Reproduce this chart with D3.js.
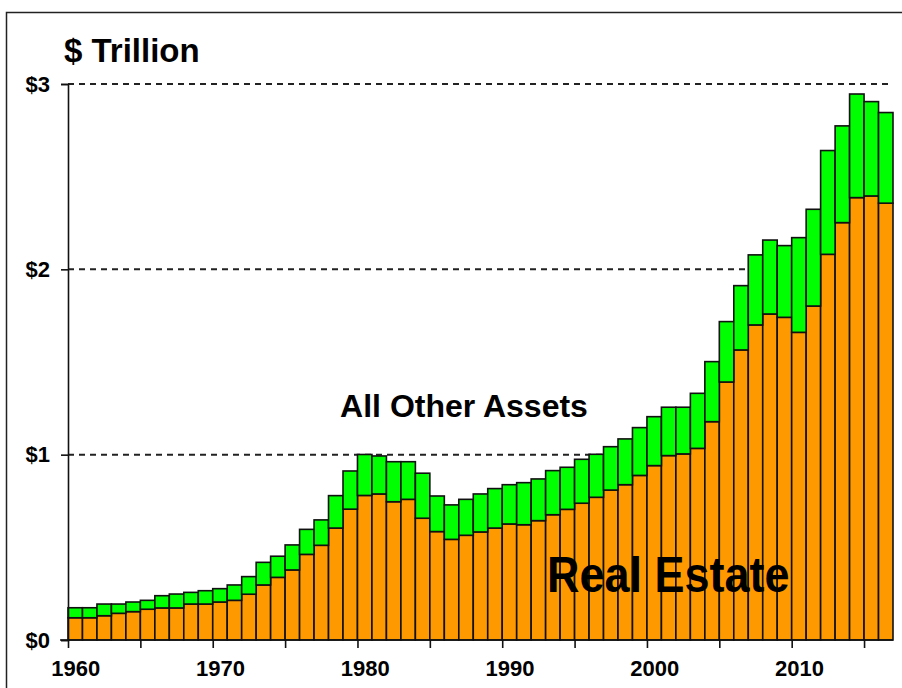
<!DOCTYPE html>
<html>
<head>
<meta charset="utf-8">
<script src="https://cdn.jsdelivr.net/npm/d3@7/dist/d3.min.js"></script>
<style>
    html, body {
        margin: 0;
        padding: 0;
        background: #fff;
    }
    #chart text {
        font-family: "Liberation Sans", Arial, sans-serif;
        font-weight: bold;
        fill: #000;
    }
</style>
</head>
<body>
<div id="chart"></div>
<script>
// Data ($ trillion)
const years = d3.range(1960, 2017);

const realEstate = [
    0.120, 0.120, 0.131, 0.144, 0.153, 0.166, 0.173, 0.173, 0.194, 0.194,
    0.205, 0.214, 0.247, 0.297, 0.338, 0.378, 0.462, 0.511, 0.604, 0.706,
    0.780, 0.788, 0.746, 0.759, 0.657, 0.585, 0.543, 0.565, 0.583, 0.604,
    0.626, 0.622, 0.644, 0.676, 0.705, 0.738, 0.770, 0.809, 0.838, 0.888,
    0.941, 0.995, 1.004, 1.034, 1.178, 1.392, 1.565, 1.700, 1.759, 1.741,
    1.660, 1.802, 2.081, 2.252, 2.387, 2.396, 2.357
];

const otherAssets = [
    0.054, 0.054, 0.063, 0.050, 0.052, 0.048, 0.066, 0.075, 0.063, 0.072,
    0.072, 0.083, 0.095, 0.122, 0.114, 0.135, 0.135, 0.137, 0.175, 0.206,
    0.221, 0.205, 0.216, 0.203, 0.243, 0.192, 0.186, 0.194, 0.205, 0.213,
    0.212, 0.227, 0.225, 0.238, 0.227, 0.237, 0.232, 0.234, 0.247, 0.258,
    0.264, 0.261, 0.252, 0.297, 0.324, 0.326, 0.347, 0.378, 0.399, 0.387,
    0.511, 0.522, 0.560, 0.522, 0.559, 0.509, 0.489
];

const yTicks = [0, 1, 2, 3];
const gridTicks = [1, 2, 3];
const xTicks = d3.range(1960, 2020, 5);
const xLabels = [1960, 1970, 1980, 1990, 2000, 2010];

const width = 902;
const height = 688;

const rows = years.map((y, i) => ({ year: y, real: realEstate[i], other: otherAssets[i] }));
const series = d3.stack().keys(['real', 'other'])(rows);
const colors = { real: '#ff9900', other: '#00ff00' };

const svg = d3.select('#chart')
    .append('svg')
    .attr('width', width)
    .attr('height', height);

// frame
svg.append('rect')
    .attr('x', 6.5)
    .attr('y', 12.5)
    .attr('width', 1000)
    .attr('height', 1000)
    .attr('fill', 'none')
    .attr('stroke', '#222')
    .attr('stroke-width', 1.5);

const xScale = d3.scaleLinear()
    .domain([1960, 2017])
    .range([68, 893]);

const yScale = d3.scaleLinear()
    .domain([0, 3])
    .range([640, 84]);

// dashed grid
svg.append('g')
    .selectAll('line')
    .data(gridTicks)
    .join('line')
    .attr('x1', xScale(1960))
    .attr('x2', xScale(2017))
    .attr('y1', d => yScale(d))
    .attr('y2', d => yScale(d))
    .attr('stroke', '#222')
    .attr('stroke-width', 2)
    .attr('stroke-dasharray', '6,5');

// stacked bars
svg.append('g')
    .selectAll('g')
    .data(series)
    .join('g')
    .attr('fill', d => colors[d.key])
    .selectAll('rect')
    .data(d => d)
    .join('rect')
    .attr('x', d => xScale(d.data.year))
    .attr('width', d => xScale(d.data.year + 1) - xScale(d.data.year))
    .attr('y', d => yScale(d[1]))
    .attr('height', d => yScale(d[0]) - yScale(d[1]))
    .attr('stroke', '#111')
    .attr('stroke-width', 1.6);

// y axis
const yAxis = svg.append('g')
    .attr('transform', 'translate(' + xScale(1960) + ',0)')
    .call(d3.axisLeft(yScale).tickValues(yTicks).tickSize(7).tickPadding(11).tickFormat(d => '$' + d));

yAxis.selectAll('line').attr('stroke', '#111').attr('stroke-width', 1.6);
yAxis.select('.domain').attr('stroke', '#111').attr('stroke-width', 1.6);
yAxis.selectAll('text').style('font-size', '22px');

// x axis ticks
const xAxis = svg.append('g')
    .attr('transform', 'translate(0,' + yScale(0) + ')')
    .call(d3.axisBottom(xScale).tickValues(xTicks).tickSize(8).tickFormat(''));

xAxis.selectAll('line').attr('stroke', '#111').attr('stroke-width', 1.6);
xAxis.select('.domain')
    .attr('d', 'M60,0H' + xScale(2017))
    .attr('stroke', '#111')
    .attr('stroke-width', 1.6);

// x labels, centred on the year's bar
const half = (xScale(1961) - xScale(1960)) / 2;
const xLabelAxis = svg.append('g')
    .attr('transform', 'translate(' + half + ',' + yScale(0) + ')')
    .call(d3.axisBottom(xScale).tickValues(xLabels).tickSize(0).tickPadding(20).tickFormat(d3.format('d')));

xLabelAxis.select('.domain').remove();
xLabelAxis.selectAll('text').style('font-size', '22px');

// title
svg.append('text')
    .attr('x', 64)
    .attr('y', 62)
    .style('font-size', '33px')
    .text('$ Trillion');

// series labels
svg.append('text')
    .attr('x', 464)
    .attr('y', 417)
    .style('font-size', '32px')
    .style('text-anchor', 'middle')
    .text('All Other Assets');

svg.append('text')
    .attr('transform', 'translate(547,592) scale(1,1.1)')
    .style('font-size', '45px')
    .text('Real Estate');
</script>
</body>
</html>
